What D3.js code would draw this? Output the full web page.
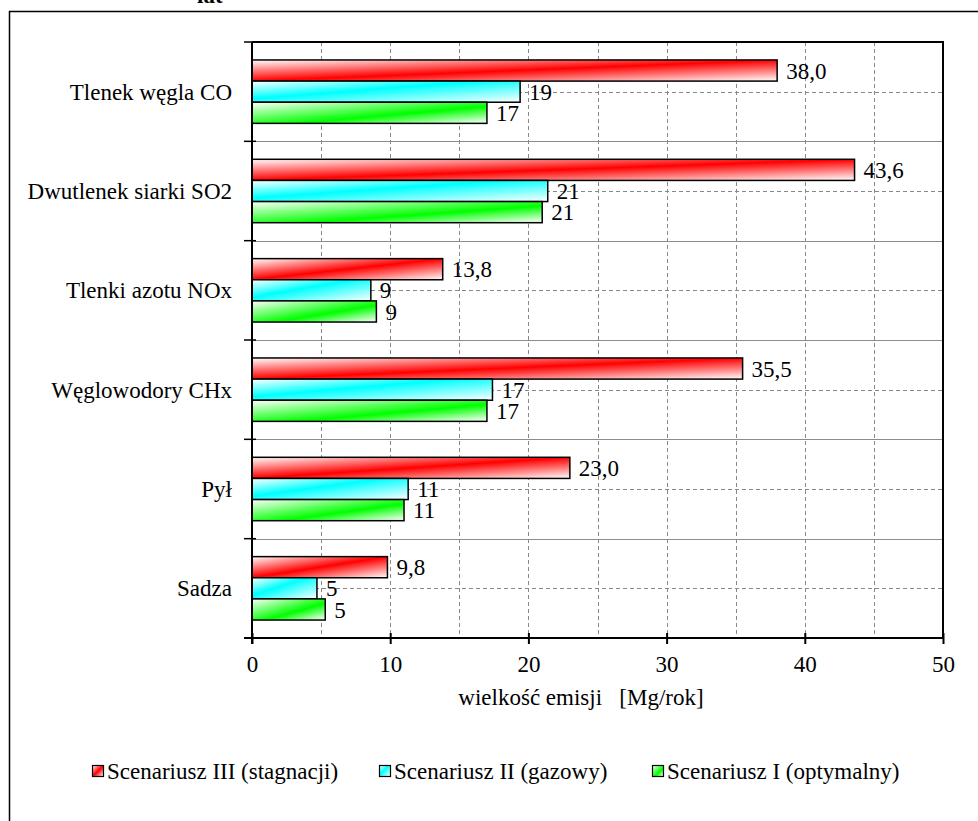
<!DOCTYPE html>
<html>
<head>
<meta charset="utf-8">
<script src="https://cdn.jsdelivr.net/npm/d3@7"></script>
<style>
  html, body { margin: 0; padding: 0; background: #fff; }
  svg { display: block; }
  svg text { font-family: "Liberation Serif", "Times New Roman", serif; }
</style>
</head>
<body>
<div id="chart"></div>
<script>
const categories = [
  "Tlenek węgla CO",
  "Dwutlenek siarki SO2",
  "Tlenki azotu NOx",
  "Węglowodory CHx",
  "Pył",
  "Sadza",
];
const seriesNames = [
  "Scenariusz III (stagnacji)",
  "Scenariusz II (gazowy)",
  "Scenariusz I (optymalny)",
];
const scen3 = [38.0, 43.6, 13.8, 35.5, 23.0, 9.8];
const scen2 = [19.4, 21.4, 8.6, 17.4, 11.3, 4.7];
const scen1 = [17.0, 21.0, 9.0, 17.0, 11.0, 5.3];
const xTicks = [0, 10, 20, 30, 40, 50];

const width = 978;
const height = 821;
const plot = { left: 252, right: 943, top: 42, bottom: 638 };
const serif = "'Liberation Serif', 'Times New Roman', serif";

const svg = d3
  .select("#chart")
  .append("svg")
  .attr("width", width)
  .attr("height", height);

// gradients: white -> colour -> white along the bar diagonal
const defs = svg.append("defs");
const grads = [
  { id: "g-red", c: "#ff0000", at: 0.5 },
  { id: "g-cyan", c: "#00ffff", at: 0.42 },
  { id: "g-green", c: "#00ff00", at: 0.6 },
];
grads.forEach((g) => {
  const lg = defs
    .append("linearGradient")
    .attr("id", g.id)
    .attr("x1", 0)
    .attr("y1", 0)
    .attr("x2", 1)
    .attr("y2", 1);
  lg.append("stop").attr("offset", 0).attr("stop-color", "#fff");
  lg.append("stop").attr("offset", g.at).attr("stop-color", g.c);
  lg.append("stop").attr("offset", 1).attr("stop-color", "#fff");
});

// outer frame (only left and top edges are visible)
svg
  .append("path")
  .attr("d", `M9.5,${height} V11.5 H${width}`)
  .attr("fill", "none")
  .attr("stroke", "#000")
  .attr("stroke-width", 1.5);

svg
  .append("text")
  .attr("x", 197)
  .attr("y", 3)
  .attr("font-family", serif)
  .style("font-size", "23px")
  .style("font-weight", "bold")
  .text("lat");

const x = d3.scaleLinear().domain([0, 50]).range([plot.left, plot.right]);
const y = d3
  .scaleBand()
  .domain(categories)
  .range([plot.top, plot.bottom])
  .padding(0);
const ySub = d3
  .scaleBand()
  .domain(seriesNames)
  .range([0, y.bandwidth()])
  .paddingInner(0)
  .paddingOuter(0.85);

const grid = svg.append("g");

// vertical dashed grid every 5
grid
  .selectAll("line.vx")
  .data(d3.range(5, 50, 5))
  .join("line")
  .attr("class", "vx")
  .attr("x1", (d) => Math.round(x(d)) + 0.5)
  .attr("x2", (d) => Math.round(x(d)) + 0.5)
  .attr("y1", plot.top)
  .attr("y2", plot.bottom)
  .attr("stroke", "#888")
  .attr("stroke-dasharray", "4,3");

// dashed lines at category centres
grid
  .selectAll("line.hc")
  .data(categories)
  .join("line")
  .attr("class", "hc")
  .attr("x1", plot.left)
  .attr("x2", plot.right)
  .attr("y1", (d) => Math.round(y(d) + y.bandwidth() / 2) + 0.5)
  .attr("y2", (d) => Math.round(y(d) + y.bandwidth() / 2) + 0.5)
  .attr("stroke", "#888")
  .attr("stroke-dasharray", "4,3");

// solid lines at category boundaries
grid
  .selectAll("line.hb")
  .data(categories.slice(1))
  .join("line")
  .attr("class", "hb")
  .attr("x1", plot.left)
  .attr("x2", plot.right)
  .attr("y1", (d) => Math.round(y(d)) + 0.5)
  .attr("y2", (d) => Math.round(y(d)) + 0.5)
  .attr("stroke", "#8c8c8c")
  .attr("stroke-width", 1);

// plot frame top + right
svg
  .append("path")
  .attr("d", `M${plot.left},${plot.top} H${plot.right} V${plot.bottom}`)
  .attr("fill", "none")
  .attr("stroke", "#000")
  .attr("stroke-width", 2);

const series = [
  { name: seriesNames[0], values: scen3, fill: "url(#g-red)", fmt: ".1f" },
  { name: seriesNames[1], values: scen2, fill: "url(#g-cyan)", fmt: ".0f" },
  { name: seriesNames[2], values: scen1, fill: "url(#g-green)", fmt: ".0f" },
];

const bars = svg.append("g");
const labels = svg.append("g");

series.forEach((s) => {
  const rows = categories.map((c, i) => ({ c, v: s.values[i] }));
  bars
    .append("g")
    .selectAll("rect")
    .data(rows)
    .join("rect")
    .attr("x", x(0))
    .attr("y", (d) => y(d.c) + ySub(s.name))
    .attr("width", (d) => x(d.v) - x(0))
    .attr("height", ySub.bandwidth())
    .attr("fill", s.fill)
    .attr("stroke", "#000")
    .attr("stroke-width", 1.5);

  const f = d3.format(s.fmt);
  labels
    .append("g")
    .selectAll("text")
    .data(rows)
    .join("text")
    .attr("x", (d) => x(d.v) + 9)
    .attr("y", (d) => y(d.c) + ySub(s.name) + ySub.bandwidth() / 2)
    .attr("dy", "0.35em")
    .attr("font-family", serif)
    .style("font-size", "23px")
    .text((d) => f(d.v).replace(".", ","));
});

// bottom axis
const xAxis = svg
  .append("g")
  .attr("transform", `translate(0,${plot.bottom})`)
  .call(
    d3
      .axisBottom(x)
      .tickValues(xTicks)
      .tickSize(0)
      .tickPadding(18)
      .tickFormat(d3.format("d")),
  );
xAxis.select(".domain").remove();
xAxis
  .selectAll(".tick text")
  .attr("font-family", serif)
  .style("font-size", "23px")
  .attr("fill", "#000");
xAxis
  .selectAll(".tick")
  .append("line")
  .attr("y1", -5)
  .attr("y2", 6)
  .attr("stroke", "#000")
  .attr("stroke-width", 2);
svg
  .append("line")
  .attr("x1", plot.left - 8)
  .attr("x2", plot.right)
  .attr("y1", plot.bottom)
  .attr("y2", plot.bottom)
  .attr("stroke", "#000")
  .attr("stroke-width", 2);

// left axis with crossing ticks at category boundaries
const yAxis = svg.append("g");
yAxis
  .append("line")
  .attr("x1", plot.left)
  .attr("x2", plot.left)
  .attr("y1", plot.top)
  .attr("y2", plot.bottom + 6)
  .attr("stroke", "#000")
  .attr("stroke-width", 2);
yAxis
  .selectAll("line.tk")
  .data(categories.map((c) => y(c)).concat([plot.bottom]))
  .join("line")
  .attr("class", "tk")
  .attr("x1", plot.left - 8)
  .attr("x2", plot.left + 4)
  .attr("y1", (d) => d)
  .attr("y2", (d) => d)
  .attr("stroke", "#000")
  .attr("stroke-width", 1.5);
yAxis
  .selectAll("text")
  .data(categories)
  .join("text")
  .attr("x", 232)
  .attr("y", (d) => y(d) + y.bandwidth() / 2)
  .attr("dy", "0.35em")
  .attr("text-anchor", "end")
  .attr("font-family", serif)
  .style("font-size", "23px")
  .text((d) => d);

svg
  .append("text")
  .attr("x", 581)
  .attr("y", 705)
  .attr("text-anchor", "middle")
  .attr("font-family", serif)
  .style("font-size", "23px")
  .style("white-space", "pre")
  .text("wielkość emisji   [Mg/rok]");

// legend
const legendX = [92, 379, 652];
const legendY = 771;
const legend = svg
  .append("g")
  .selectAll("g")
  .data(series)
  .join("g")
  .attr("transform", (d, i) => `translate(${legendX[i]},${legendY})`);
legend
  .append("rect")
  .attr("x", 0.5)
  .attr("y", -5.5)
  .attr("width", 11)
  .attr("height", 11)
  .attr("fill", (d) => d.fill)
  .attr("stroke", "#000")
  .attr("stroke-width", 1.2);
legend
  .append("text")
  .attr("x", 15)
  .attr("y", 0)
  .attr("dy", "0.35em")
  .attr("font-family", serif)
  .style("font-size", "23px")
  .text((d) => d.name);
</script>
</body>
</html>
